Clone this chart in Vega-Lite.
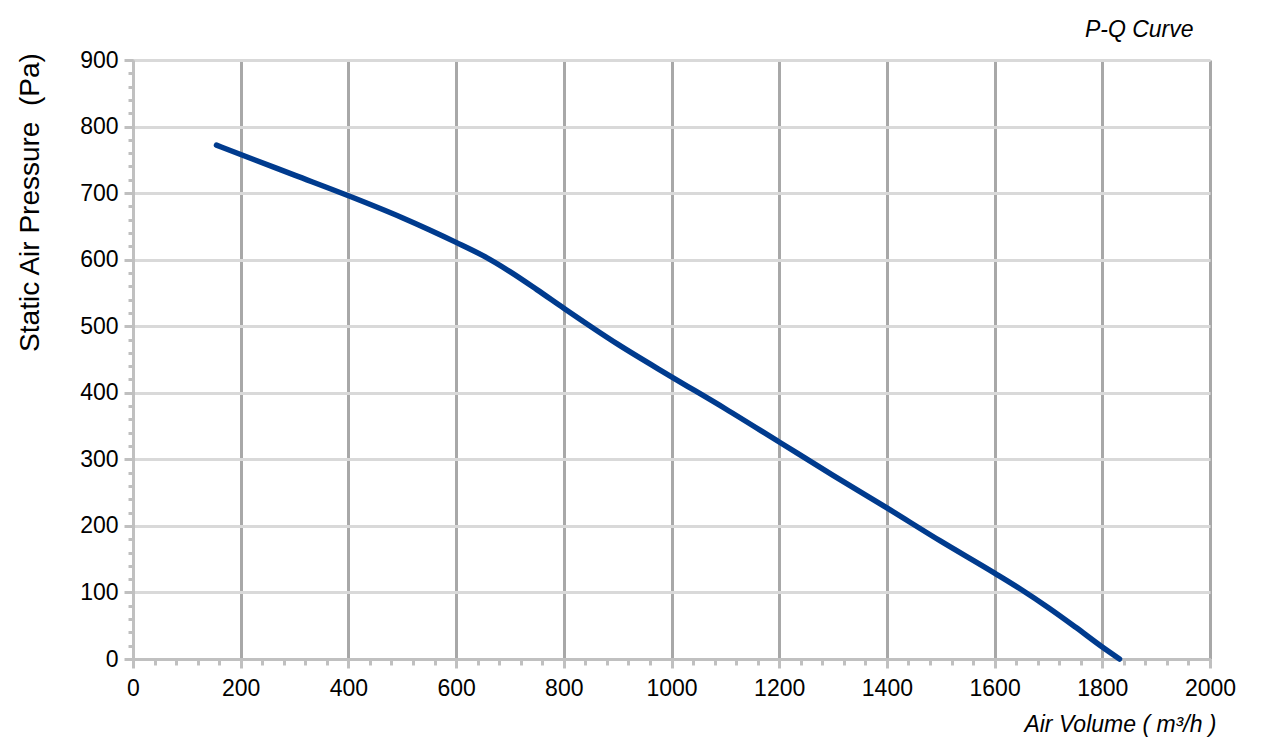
{
  "$schema": "https://vega.github.io/schema/vega-lite/v6.json",
  "autosize": "none",
  "width": 1077,
  "height": 599,
  "padding": {"left": 133, "top": 60, "right": 53, "bottom": 97},
  "background": "white",
  "config": {
    "view": {"stroke": null},
    "font": "Liberation Sans",
    "axis": {"labelFont": "Liberation Sans", "titleFont": "Liberation Sans", "labelColor": "#000000", "titleColor": "#000000"}
  },
  "title": {
    "text": "P-Q Curve",
    "anchor": "end",
    "dx": -42,
    "offset": 7,
    "font": "Liberation Sans",
    "fontSize": 23,
    "fontStyle": "italic",
    "fontWeight": "normal",
    "color": "#000000"
  },
  "data": {
    "values": [
      {"q": 155, "p": 772},
      {"q": 200, "p": 758},
      {"q": 300, "p": 727},
      {"q": 400, "p": 696},
      {"q": 500, "p": 663},
      {"q": 550, "p": 645},
      {"q": 600, "p": 626},
      {"q": 650, "p": 606},
      {"q": 700, "p": 582},
      {"q": 750, "p": 555},
      {"q": 800, "p": 527},
      {"q": 900, "p": 473},
      {"q": 1000, "p": 424},
      {"q": 1100, "p": 376},
      {"q": 1200, "p": 326},
      {"q": 1300, "p": 276},
      {"q": 1400, "p": 227},
      {"q": 1500, "p": 177},
      {"q": 1600, "p": 129},
      {"q": 1650, "p": 104},
      {"q": 1700, "p": 77},
      {"q": 1750, "p": 48},
      {"q": 1800, "p": 18},
      {"q": 1832, "p": 0}
    ]
  },
  "layer": [
    {
      "mark": {"type": "point", "opacity": 0},
      "encoding": {
        "x": {
          "field": "q", "type": "quantitative",
          "scale": {"domain": [0, 2000], "nice": false, "zero": false},
          "axis": {
            "orient": "bottom",
            "values": [0,40,80,120,160,200,240,280,320,360,400,440,480,520,560,600,640,680,720,760,800,840,880,920,960,1000,1040,1080,1120,1160,1200,1240,1280,1320,1360,1400,1440,1480,1520,1560,1600,1640,1680,1720,1760,1800,1840,1880,1920,1960,2000],
            "labels": false, "grid": false, "domain": false, "title": null,
            "tickSize": 6, "tickWidth": 3, "tickColor": "#c0c0c0"
          }
        },
        "y": {
          "field": "p", "type": "quantitative",
          "scale": {"domain": [0, 900], "nice": false, "zero": false},
          "axis": {
            "orient": "left",
            "values": [0,20,40,60,80,100,120,140,160,180,200,220,240,260,280,300,320,340,360,380,400,420,440,460,480,500,520,540,560,580,600,620,640,660,680,700,720,740,760,780,800,820,840,860,880,900],
            "labels": false, "grid": false, "domain": false, "title": null,
            "tickSize": 5, "tickWidth": 3, "tickColor": "#c0c0c0"
          }
        }
      }
    },
    {
      "mark": {"type": "line", "color": "#003b8e", "strokeWidth": 5.5, "interpolate": "monotone", "strokeCap": "round"},
      "encoding": {
        "x": {
          "field": "q", "type": "quantitative",
          "axis": {
            "orient": "bottom",
            "values": [0,200,400,600,800,1000,1200,1400,1600,1800,2000],
            "format": "d",
            "labelFlush": false,
            "labelOverlap": false,
            "grid": true, "gridColor": "#a8a8a8", "gridWidth": 3,
            "domain": true, "domainColor": "#c0c0c0", "domainWidth": 3,
            "ticks": true, "tickSize": 9, "tickWidth": 3, "tickColor": "#c0c0c0",
            "labelFontSize": 23, "labelPadding": 9,
            "title": "Air Volume ( m³/h )",
            "titleFontSize": 23, "titleFontStyle": "italic", "titleFontWeight": "normal",
            "titleAlign": "right", "titleBaseline": "middle", "titleAnchor": null,
            "titleX": 1083, "titleY": 65
          }
        },
        "y": {
          "field": "p", "type": "quantitative",
          "axis": {
            "orient": "left",
            "values": [0,100,200,300,400,500,600,700,800,900],
            "format": "d",
            "labelFlush": false,
            "labelOverlap": false,
            "grid": true, "gridColor": "#d9d9d9", "gridWidth": 3,
            "domain": true, "domainColor": "#c0c0c0", "domainWidth": 3,
            "ticks": true, "tickSize": 9, "tickWidth": 3, "tickColor": "#c0c0c0",
            "labelFontSize": 23, "labelPadding": 6,
            "title": "Static Air Pressure \u00a0(Pa)",
            "titleFontSize": 28, "titleFontWeight": "normal",
            "titleAngle": -90, "titleAlign": "center", "titleBaseline": "middle",
            "titleX": -103, "titleY": 142
          }
        }
      }
    }
  ],
  "resolve": {"axis": {"x": "independent", "y": "independent"}}
}
